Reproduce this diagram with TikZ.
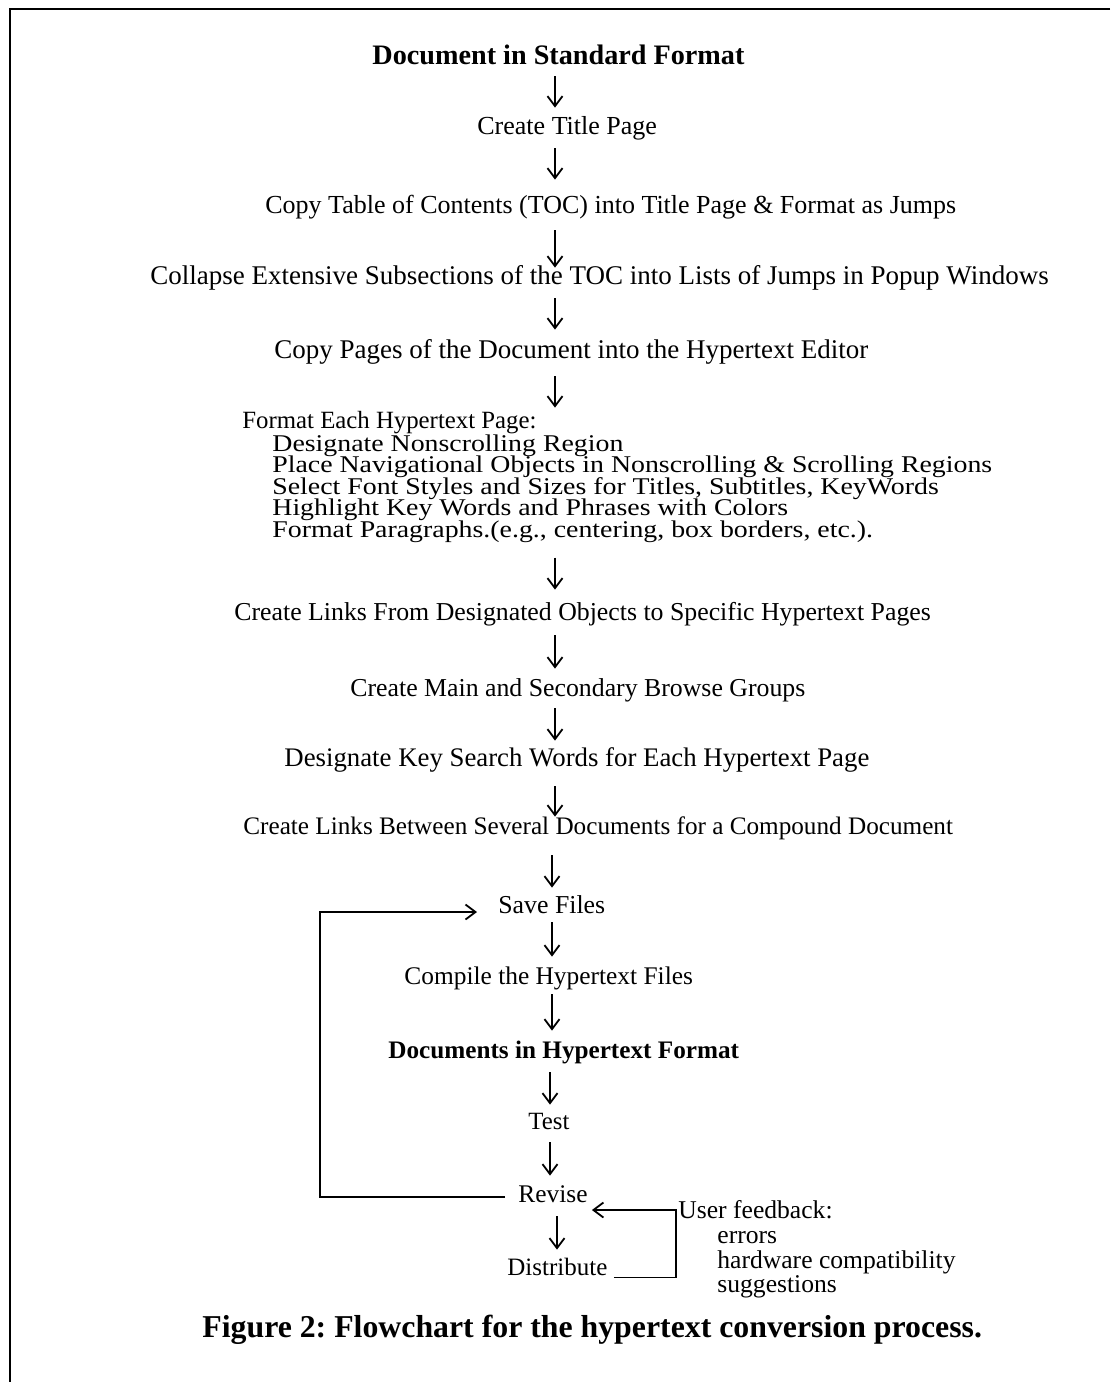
\documentclass[tikz,border=0pt]{standalone}
\usepackage{fontspec}
\setmainfont{Liberation Serif}
% widened face for the tightly set formatting sub-steps
\newfontfamily\widefont[FakeStretch=1.16]{Liberation Serif}
\usetikzlibrary{arrows.meta}
\frenchspacing
\begin{document}
\begin{tikzpicture}[x=0.5pt,y=-0.5pt,
  txt/.style={inner sep=0pt, anchor=west, text height=9.6pt, text depth=1.8pt,
              font=\fontsize{#1}{#1}\selectfont},
  txt/.default=13,
  btxt/.style={txt, font=\fontsize{#1}{#1}\bfseries\selectfont},
  subtxt/.style={txt, text height=8pt, text depth=1.5pt, font=\widefont\fontsize{12}{12}\selectfont},
  figcap/.style={inner sep=0pt, anchor=west, font=\fontsize{15.9}{18}\bfseries\selectfont},
  arr/.style={line width=0.65pt, -{Straight Barb[length=5pt,width=7.5pt,line width=0.9pt]}},
]
\useasboundingbox (0,0) rectangle (1110,1382);
% frame
\draw[line width=1.1pt] (1110,9) -- (10,9) -- (10,1382);

% arrow columns
\coordinate (ax) at (555,0);
\coordinate (bx) at (552,0);
\coordinate (cx) at (550,0);
\coordinate (dx) at (557,0);
\coordinate (lx) at (333,0);
\coordinate (rx) at (670,0);

% steps
\node[btxt=14.1] (s0) at (372,57) {Document in Standard Format};
\node[txt] (s1) at (477,127) {Create Title Page};
\node[txt] (s2) at (265,206) {Copy Table of Contents (TOC) into Title Page \& Format as Jumps};
\node[txt=13.5] (s3) at (150,277) {Collapse Extensive Subsections of the TOC into Lists of Jumps in Popup Windows};
\node[txt=13.5] (s4) at (274,351) {Copy Pages of the Document into the Hypertext Editor};
\node[txt=12.4] (f0) at (242,421) {Format Each Hypertext Page:};
\node[subtxt] (f1) at (272,445) {Designate Nonscrolling Region};
\node[subtxt] (f2) at (272,466) {Place Navigational Objects in Nonscrolling \& Scrolling Regions};
\node[subtxt] (f3) at (272,488) {Select Font Styles and Sizes for Titles, Subtitles, KeyWords};
\node[subtxt] (f4) at (272,509) {Highlight Key Words and Phrases with Colors};
\node[subtxt] (f5) at (272,531) {Format Paragraphs.(e.g., centering, box borders, etc.).};
\node[txt=12.9] (s6) at (234,613) {Create Links From Designated Objects to Specific Hypertext Pages};
\node[txt=12.9] (s7) at (350,689) {Create Main and Secondary Browse Groups};
\node[txt=13.4] (s8) at (284,759) {Designate Key Search Words for Each Hypertext Page};
\node[txt=12.6] (s9) at (243,827) {Create Links Between Several Documents for a Compound Document};
\node[txt=12.9] (save) at (498,906) {Save Files};
\node[txt=12.7] (comp) at (404,977) {Compile the Hypertext Files};
\node[btxt=12.6] (hyp) at (388,1051) {Documents in Hypertext Format};
\node[txt=12.4] (test) at (528,1122) {Test};
\node[txt=12.7] (rev) at (518,1195) {Revise};
\node[txt=12.5] (dist) at (507,1268) {Distribute};

% user feedback
\node[txt=12.8] (fb0) at (678,1211) {User feedback:};
\node[txt=12.8] (fb1) at (717,1236) {errors};
\node[txt=12.8] (fb2) at (717,1261) {hardware compatibility};
\node[txt=12.8] (fb3) at (717,1285) {suggestions};

% caption
\node[figcap] (caption) at (202,1330) {Figure 2: Flowchart for the hypertext conversion process.};

% main flow
\draw[arr, shorten <=3.8pt, shorten >=3.8pt] (s0.south -| ax) -- (s1.north -| ax);
\draw[arr, shorten <=4.8pt, shorten >=7.3pt] (s1.south -| ax) -- (s2.north -| ax);
\draw[arr, shorten <=6.3pt, shorten >=-1.2pt] (s2.south -| ax) -- (s3.north -| ax);
\draw[arr, shorten <=4.8pt, shorten >=4.8pt] (s3.south -| ax) -- (s4.north -| ax);
\draw[arr, shorten <=6.8pt, shorten >=0.8pt] (s4.south -| ax) -- (f0.north -| ax);
\draw[arr, shorten <=8.4pt, shorten >=5.8pt] (f5.south -| ax) -- (s6.north -| ax);
\draw[arr, shorten <=5.3pt, shorten >=4.3pt] (s6.south -| ax) -- (s7.north -| ax);
\draw[arr, shorten <=3.8pt, shorten >=3.3pt] (s7.south -| ax) -- (s8.north -| ax);
\draw[arr, shorten <=7.8pt, shorten >=-0.7pt] (s8.south -| ax) -- (s9.north -| ax);
\draw[arr, shorten <=8.3pt, shorten >=3.3pt] (s9.south -| bx) -- (save.north -| bx);
\draw[arr, shorten <=2.3pt, shorten >=4.3pt] (save.south -| bx) -- (comp.north -| bx);
\draw[arr, shorten <=2.8pt, shorten >=4.3pt] (comp.south -| bx) -- (hyp.north -| bx);
\draw[arr, shorten <=4.8pt, shorten >=2.8pt] (hyp.south -| cx) -- (test.north -| cx);
\draw[arr, shorten <=4.3pt, shorten >=3.8pt] (test.south -| cx) -- (rev.north -| cx);
\draw[arr, shorten <=4.8pt, shorten >=3.3pt] (rev.south -| dx) -- (dist.north -| dx);

% revision loop back to saving
\draw[arr]
  ([xshift=-6.5pt,yshift=-1pt]rev.west) -- ([xshift=-6.5pt,yshift=-1pt]rev.west -| lx)
  |- ([xshift=-10.5pt,yshift=-3pt]save.west);

% feedback from distribution back to revision
\draw[arr]
  ([xshift=3pt,yshift=-1pt]dist.base east) -- ([xshift=3pt,yshift=-1pt]dist.base east -| rx)
  |- ([xshift=2pt,yshift=-7.5pt]rev.east);
\end{tikzpicture}
\end{document}
